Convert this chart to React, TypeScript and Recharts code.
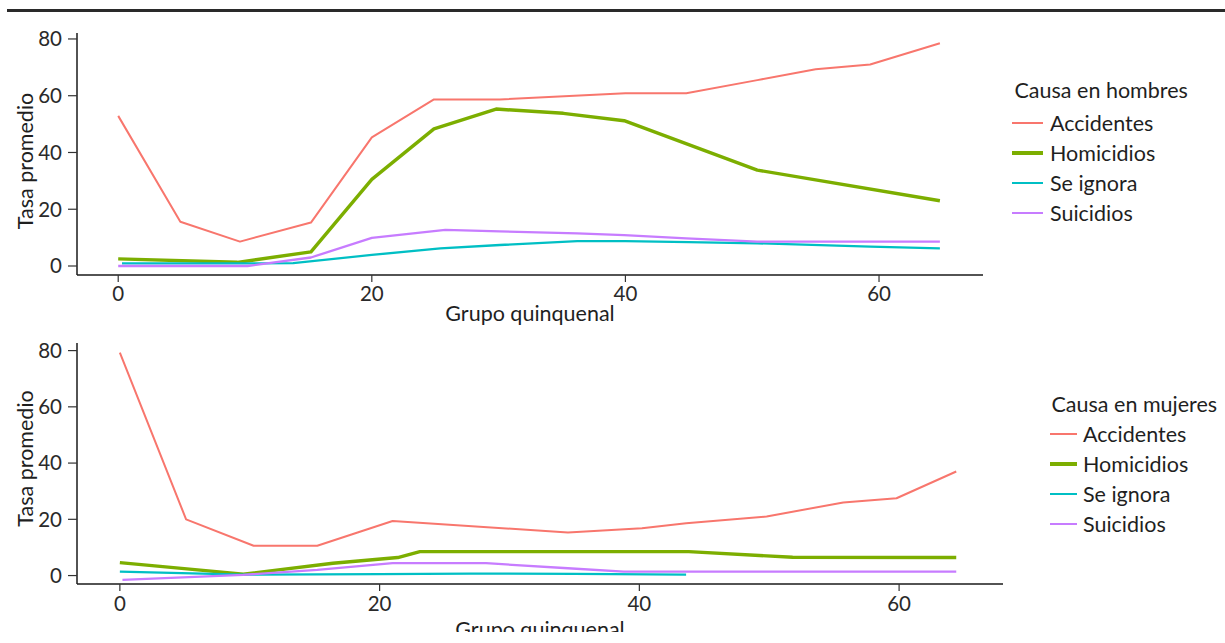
import React from 'react';
import { LineChart, Line, XAxis, YAxis, Legend } from 'recharts';

const seriesNames = ['Accidentes', 'Homicidios', 'Se ignora', 'Suicidios'];
const seriesColors = ['#F8766D', '#7CAE00', '#00BFC4', '#C77CFF'];
const seriesWidths = [2.0, 3.4, 2.3, 2.3];
const legendKeyWidths = [2.8, 3.8, 2.8, 2.8];

const xTicks = [0, 20, 40, 60];
const yTicks = [0, 20, 40, 60, 80];

// Hombres
const menAccidentesX = [0, 4.9, 9.6, 15.2, 20, 24.9, 30.1, 40, 44.8, 50.4, 55, 59.3, 64.8];
const menAccidentesY = [52.9, 15.6, 8.6, 15.3, 45.3, 58.7, 58.7, 60.9, 60.9, 65.5, 69.3, 71.0, 78.5];
const menHomicidiosX = [0, 9.4, 15.2, 20, 24.9, 29.8, 35.1, 39.9, 50.4, 64.8];
const menHomicidiosY = [2.5, 1.3, 5.0, 30.5, 48.3, 55.3, 53.8, 51.2, 33.8, 23.0];
const menSeIgnoraX = [0.3, 10, 13.8, 20, 25.4, 30.1, 36.2, 40, 45, 50.4, 59.3, 64.8];
const menSeIgnoraY = [0.9, 0.9, 1.0, 3.9, 6.2, 7.4, 8.8, 8.8, 8.4, 8.0, 6.8, 6.2];
const menSuicidiosX = [0, 10.2, 15.2, 20, 25.8, 30.1, 36.2, 39.9, 44.8, 50.4, 64.8];
const menSuicidiosY = [0, 0, 3.0, 9.9, 12.7, 12.2, 11.5, 10.9, 9.7, 8.6, 8.6];

// Mujeres
const womenAccidentesX = [0, 5.1, 10.3, 15.2, 21.0, 34.5, 40.2, 43.6, 49.8, 55.7, 59.8, 64.4];
const womenAccidentesY = [79.3, 20.0, 10.6, 10.6, 19.4, 15.3, 16.8, 18.6, 21.0, 26.0, 27.5, 37.0];
const womenHomicidiosX = [0, 9.5, 16.4, 21.4, 23.1, 43.8, 51.8, 64.4];
const womenHomicidiosY = [4.6, 0.5, 4.4, 6.4, 8.5, 8.5, 6.5, 6.4];
const womenSeIgnoraX = [0, 9.5, 20, 27, 35, 43.6];
const womenSeIgnoraY = [1.4, 0.3, 0.5, 0.7, 0.6, 0.3];
const womenSuicidiosX = [0.2, 9.5, 15.2, 21.0, 28.2, 34.5, 38.8, 64.4];
const womenSuicidiosY = [-1.5, 0.25, 2.0, 4.4, 4.4, 2.6, 1.4, 1.4];

const zip = (xs: number[], ys: number[]) => xs.map((x, i) => ({ x, y: ys[i] }));

const menSeries = [
  zip(menAccidentesX, menAccidentesY),
  zip(menHomicidiosX, menHomicidiosY),
  zip(menSeIgnoraX, menSeIgnoraY),
  zip(menSuicidiosX, menSuicidiosY),
];
const womenSeries = [
  zip(womenAccidentesX, womenAccidentesY),
  zip(womenHomicidiosX, womenHomicidiosY),
  zip(womenSeIgnoraX, womenSeIgnoraY),
  zip(womenSuicidiosX, womenSuicidiosY),
];

const FONT = 'Lato, "Open Sans", sans-serif';
const TEXT = '#1f1f1f';
const LABEL_SIZE = 21.5;

const makeLegend = (title: string, keyWidth: number, gap: number, titleIndent: number, titleHeight: number) =>
  (props: any) => {
    const payload = props.payload || [];
    return (
      <div style={{ fontFamily: FONT, fontSize: LABEL_SIZE, color: TEXT, textAlign: 'left' }}>
        <div style={{ height: titleHeight, lineHeight: '30px', marginLeft: titleIndent, whiteSpace: 'nowrap' }}>{title}</div>
        {payload.map((p: any, i: number) => (
          <div key={i} style={{ display: 'flex', alignItems: 'center', height: 30 }}>
            <div style={{ width: keyWidth, height: legendKeyWidths[i], background: p.color }} />
            <span style={{ marginLeft: gap, lineHeight: '30px', whiteSpace: 'nowrap' }}>{p.value}</span>
          </div>
        ))}
      </div>
    );
  };

const yLabel = (shift: number) => (props: any) => {
  const vb = props.viewBox || {};
  const cx = vb.x + 25;
  const cy = vb.y + vb.height / 2 + shift;
  return (
    <text
      x={cx}
      y={cy}
      transform={`rotate(-90, ${cx}, ${cy})`}
      textAnchor="middle"
      dy="0.36em"
      style={{ fontFamily: FONT, fontSize: LABEL_SIZE, fill: TEXT }}
    >
      Tasa promedio
    </text>
  );
};

const tickStyle = { fontFamily: FONT, fontSize: 20.5, fill: '#2a2a2a' };
const axisLine = { stroke: '#1a1a1a', strokeWidth: 1.5 };
const tickLine = { stroke: '#333', strokeWidth: 1.2 };

function Panel(props: {
  series: { x: number; y: number }[][];
  width: number;
  height: number;
  margin: any;
  xDomain: [number, number];
  yDomain: [number, number];
  xLabelOffset: number;
  xTickMargin: number;
  yShift: number;
  legendTitle: string;
  legendStyle: any;
  keyWidth: number;
  gap: number;
  titleIndent: number;
  titleHeight: number;
}) {
  return (
    <LineChart width={props.width} height={props.height} margin={props.margin}>
      <XAxis
        type="number"
        dataKey="x"
        domain={props.xDomain}
        ticks={xTicks}
        allowDataOverflow
        height={30}
        tickSize={7}
        tickMargin={props.xTickMargin}
        tick={tickStyle}
        axisLine={axisLine}
        tickLine={tickLine}
        label={{
          value: 'Grupo quinquenal',
          position: 'bottom',
          offset: props.xLabelOffset,
          style: { fontFamily: FONT, fontSize: LABEL_SIZE, fill: TEXT },
        }}
      />
      <YAxis
        type="number"
        domain={props.yDomain}
        ticks={yTicks}
        allowDataOverflow
        width={77}
        tickSize={9}
        tickMargin={6}
        tick={tickStyle}
        axisLine={axisLine}
        tickLine={tickLine}
        label={{ content: yLabel(props.yShift) } as any}
      />
      <Legend
        layout="vertical"
        align="center"
        verticalAlign="middle"
        wrapperStyle={props.legendStyle}
        content={makeLegend(props.legendTitle, props.keyWidth, props.gap, props.titleIndent, props.titleHeight)}
      />
      {props.series.map((d, i) => (
        <Line
          key={seriesNames[i]}
          data={d}
          dataKey="y"
          name={seriesNames[i]}
          type="linear"
          stroke={seriesColors[i]}
          strokeWidth={seriesWidths[i]}
          dot={false}
          activeDot={false}
          isAnimationActive={false}
          strokeLinejoin="round"
        />
      ))}
    </LineChart>
  );
}

export default function App() {
  return (
    <div
      style={{
        position: 'absolute',
        left: 0,
        top: 0,
        width: 1225,
        height: 632,
        overflow: 'hidden',
        background: '#ffffff',
        fontFamily: FONT,
      }}
    >
      <div style={{ position: 'absolute', left: 7, top: 9, width: 1218, height: 3, background: '#2a2a2a' }} />
      <div style={{ position: 'absolute', left: 0, top: 0 }}>
        <Panel
          series={menSeries}
          width={1225}
          height={330}
          margin={{ top: 33, right: 242, bottom: 25, left: 0 }}
          xDomain={[-3.25, 68.2]}
          yDomain={[-3.17, 82.1]}
          xLabelOffset={1}
          xTickMargin={4}
          yShift={7}
          legendTitle="Causa en hombres"
          legendStyle={{ left: 1012, top: 75, width: 213, height: 'auto' }}
          keyWidth={31}
          gap={7}
          titleIndent={2.5}
          titleHeight={33}
        />
      </div>
      <div style={{ position: 'absolute', left: 0, top: 330 }}>
        <Panel
          series={womenSeries}
          width={1225}
          height={313}
          margin={{ top: 13, right: 222, bottom: 29, left: 0 }}
          xDomain={[-3.3, 68.0]}
          yDomain={[-3.0, 82.7]}
          xLabelOffset={8}
          xTickMargin={5}
          yShift={-5}
          legendTitle="Causa en mujeres"
          legendStyle={{ left: 1050, top: 59, width: 175, height: 'auto' }}
          keyWidth={27}
          gap={6}
          titleIndent={1.5}
          titleHeight={30}
        />
      </div>
    </div>
  );
}
